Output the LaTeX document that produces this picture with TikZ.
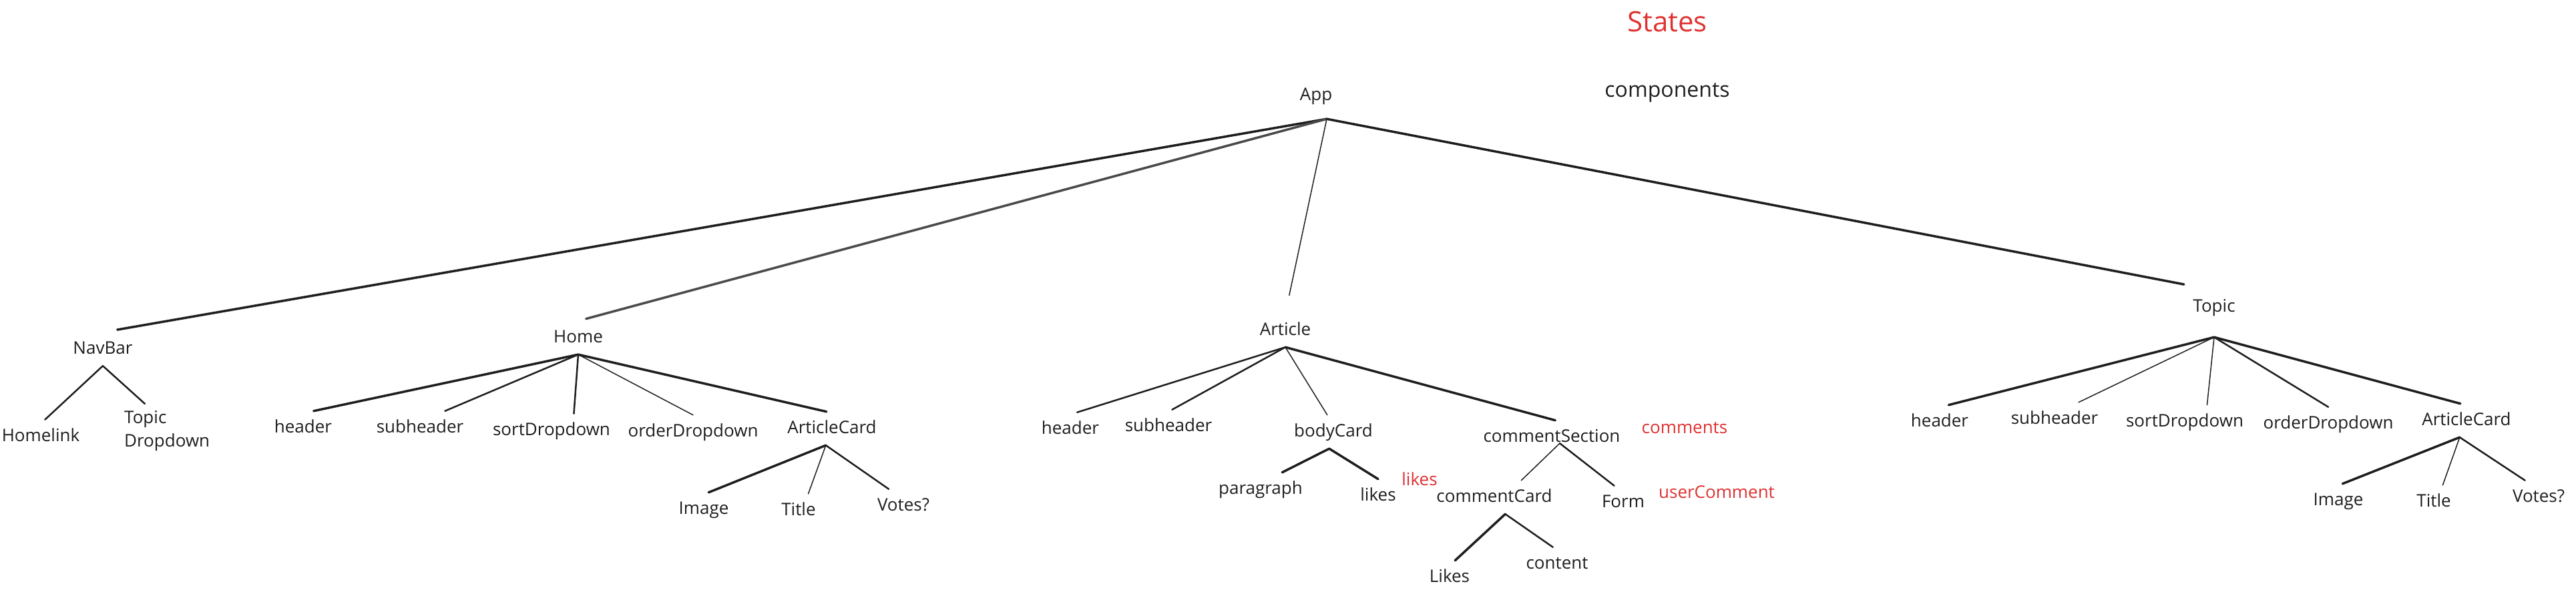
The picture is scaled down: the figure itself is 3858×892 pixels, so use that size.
\documentclass[tikz,border=0pt]{standalone}
\usepackage{fontspec}
\setmainfont{Open Sans}
\definecolor{ink}{HTML}{1E1E1E}
\definecolor{inkgray}{HTML}{4A4A4A}
\definecolor{statered}{HTML}{E03131}

\begin{document}
\begin{tikzpicture}[x=1pt, y=-1pt,
    comp/.style={font=\fontsize{26}{30}\selectfont, text=ink, inner xsep=4pt, inner ysep=12pt, text height=20pt, text depth=6pt},
    state/.style={font=\fontsize{26}{30}\selectfont, text=statered},
    heavylink/.style={draw=ink, line width=3.5pt, line cap=round},
    midlink/.style={draw=ink, line width=2.5pt, line cap=round},
    lightlink/.style={draw=ink, line width=1.5pt, line cap=round}]
    \useasboundingbox (0,0) rectangle (3858,892);
    % legend
    \node[state, font=\fontsize{42}{46}\selectfont] (states) at (2497,32) {States};
    \node[comp, font=\fontsize{32}{36}\selectfont] (legend) at (2497,138) {components};
    % root
    \node[comp] (app) at (1971,143) {App};
    \coordinate (appj) at ([xshift=16pt,yshift=-10pt]app.south);
    % first level
    \node[comp] (navbar) at (154,523) {NavBar};
    \node[comp] (home) at (866,506) {Home};
    \node[comp] (article) at (1925,495) {Article};
    \node[comp] (topic) at (3316,460) {Topic};
    \draw[heavylink, shorten >=22pt] (appj) -- (navbar.north);
    \draw[heavylink, draw=inkgray, shorten >=12pt] (appj) -- (home.north);
    \draw[lightlink, shorten >=28pt] (appj) -- (article.north);
    \draw[heavylink, shorten >=46pt] (appj) -- (topic.north);
    % navbar
    \node[comp] (homelink) at (61,654) {Homelink};
    \node[font=\fontsize{26}{35}\selectfont, text=ink, align=left, anchor=north west, inner sep=0pt] (topicdd) at (186,615) {Topic\\Dropdown};
    \draw[midlink] (navbar.south) -- (homelink.76);
    \draw[midlink] (navbar.south) -- ([xshift=31pt,yshift=10pt]topicdd.north west);
    % home
    \node[comp] (hheader) at (454,641) {header};
    \node[comp] (hsub) at (629,641) {subheader};
    \node[comp] (hsort) at (826,645) {sortDropdown};
    \node[comp] (horder) at (1038,647) {orderDropdown};
    \node[comp] (hcard) at (1246,642) {ArticleCard};
    \draw[heavylink] (home.south) -- (hheader.58);
    \draw[midlink] (home.south) -- (hsub.34);
    \draw[midlink] (home.south) -- (hsort.37);
    \draw[lightlink] (home.south) -- (horder.north);
    \draw[heavylink] (home.south) -- (hcard.108);
    % home article card
    \node[comp] (himage) at (1054,763) {Image};
    \node[comp] (htitle) at (1196,765) {Title};
    \node[comp] (hvotes) at (1353,758) {Votes?};
    \draw[heavylink] (hcard.-110) -- (himage.74);
    \draw[lightlink] (hcard.-110) -- (htitle.60);
    \draw[midlink] (hcard.-110) -- (hvotes.131);
    % article
    \node[comp] (aheader) at (1603,643) {header};
    \node[comp] (asub) at (1750,639) {subheader};
    \node[comp] (abody) at (1997,647) {bodyCard};
    \node[comp] (asection) at (2324,655) {commentSection};
    \draw[midlink] (article.south) -- (aheader.68);
    \draw[midlink] (article.south) -- (asub.78);
    \draw[lightlink] (article.south) -- (abody.110);
    \draw[heavylink] (article.south) -- (asection.78);
    % body card
    \node[comp] (paragraph) at (1888,733) {paragraph};
    \node[comp] (blikes) at (2064,743) {likes};
    \draw[heavylink] (abody.-104) -- (paragraph.38);
    \draw[heavylink] (abody.-104) -- (blikes.north);
    % comment section
    \coordinate (sectionj) at ([xshift=12pt,yshift=16pt]asection.south);
    \node[comp] (ccard) at (2238,745) {commentCard};
    \node[comp] (form) at (2431,753) {Form};
    \draw[lightlink] (sectionj) -- (ccard.32);
    \draw[midlink] (sectionj) -- (form.118);
    % comment card
    \node[comp] (clikes) at (2171,865) {Likes};
    \node[comp] (ccontent) at (2332,845) {content};
    \draw[heavylink] (ccard.-57) -- (clikes.72);
    \draw[midlink] (ccard.-57) -- (ccontent.104);
    % topic
    \coordinate (topicj) at ([yshift=-20pt]topic.south);
    \node[comp] (theader) at (2905,632) {header};
    \node[comp] (tsub) at (3077,628) {subheader};
    \node[comp] (tsort) at (3272,632) {sortDropdown};
    \node[comp] (torder) at (3487,635) {orderDropdown};
    \node[comp] (tcard) at (3694,630) {ArticleCard};
    \draw[heavylink] (topicj) -- (theader.62);
    \draw[lightlink] (topicj) -- (tsub.35);
    \draw[lightlink] (topicj) -- (tsort.37);
    \draw[midlink] (topicj) -- (torder.north);
    \draw[heavylink] (topicj) -- (tcard.110);
    % topic article card
    \node[comp] (timage) at (3502,750) {Image};
    \node[comp] (ttitle) at (3645,752) {Title};
    \node[comp] (tvotes) at (3802,745) {Votes?};
    \draw[heavylink] (tcard.-112) -- (timage.76);
    \draw[lightlink] (tcard.-112) -- (ttitle.62);
    \draw[midlink] (tcard.-112) -- (tvotes.129);
    % states
    \node[state] (comments) at (2523,641) {comments};
    \node[state] (likes) at (2126,718) {likes};
    \node[state] (usercomment) at (2571,737) {userComment};
\end{tikzpicture}
\end{document}
